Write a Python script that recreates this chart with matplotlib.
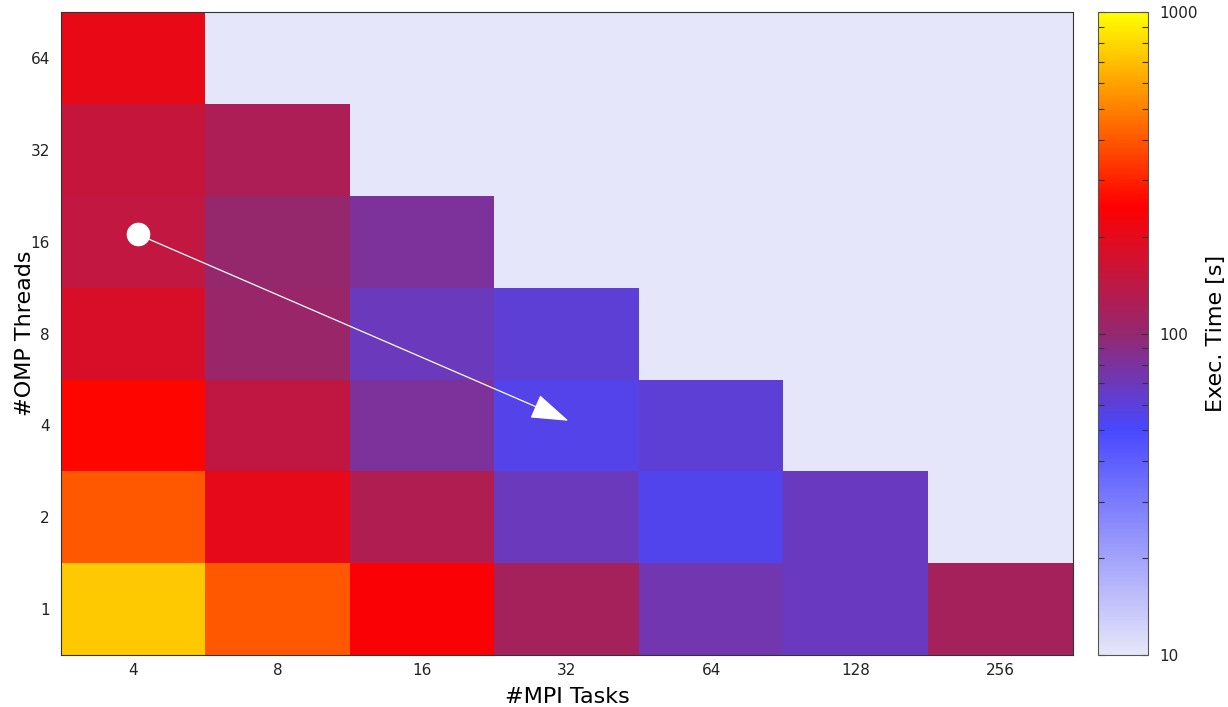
import numpy as np
import matplotlib
matplotlib.use("Agg")
import matplotlib.pyplot as plt
from matplotlib.colors import LinearSegmentedColormap, LogNorm

mpi_tasks = [4, 8, 16, 32, 64, 128, 256]
omp_threads = [1, 2, 4, 8, 16, 32, 64]

# Execution time [s]; rows = OMP threads (1..64), cols = MPI tasks (4..256); NaN = not run
exec_1 = [740, 400, 240, 116, 73, 68, 116]
exec_2 = [405, 205, 127, 69, 55, 68, np.nan]
exec_4 = [255, 145, 82, 56, 61, np.nan, np.nan]
exec_8 = [178, 104, 69, 61, np.nan, np.nan, np.nan]
exec_16 = [146, 100, 82, np.nan, np.nan, np.nan, np.nan]
exec_32 = [152, 124, np.nan, np.nan, np.nan, np.nan, np.nan]
exec_64 = [206, np.nan, np.nan, np.nan, np.nan, np.nan, np.nan]

data = np.array([exec_1, exec_2, exec_4, exec_8, exec_16, exec_32, exec_64], dtype=float)

cmap = LinearSegmentedColormap.from_list(
    "exec",
    [(0.0, "#E6E6FA"), (0.35, "#4848FF"), (0.5, "#94286F"),
     (0.7, "#FF0000"), (0.85, "#FF8000"), (1.0, "#FFFF00")])
cmap.set_bad("#E6E6FA")

fig = plt.figure(figsize=(12.28, 7.07), dpi=100)
ax = fig.add_axes([61/1228, 1-655/707, (1073-61)/1228, (655-12)/707])
cax = fig.add_axes([1098/1228, 1-655/707, 50/1228, (655-12)/707])

norm = LogNorm(vmin=10, vmax=1000)
im = ax.imshow(np.ma.masked_invalid(data), cmap=cmap, norm=norm, origin="lower",
               aspect="auto", interpolation="nearest")

ax.set_xticks(range(len(mpi_tasks)))
ax.set_xticklabels([str(v) for v in mpi_tasks])
ax.set_yticks(range(len(omp_threads)))
ax.set_yticklabels([str(v) for v in omp_threads])
ax.tick_params(length=0, labelsize=11, colors="#222222")
ax.tick_params(axis="y", pad=8)
ax.tick_params(axis="x", pad=6)
for s in ax.spines.values():
    s.set_color("#333333")
    s.set_linewidth(0.8)
ax.set_xlabel("#MPI Tasks", fontsize=16, labelpad=6)
ax.set_ylabel("#OMP Threads", fontsize=16, labelpad=-3)

# annotation arrow: from (4 MPI x 16 OMP) to (32 MPI x 4 OMP)
x0, y0 = mpi_tasks.index(4) + 0.03, omp_threads.index(16) + 0.08
x1, y1 = mpi_tasks.index(32) + 0.01, omp_threads.index(4) + 0.05
ax.annotate("", xy=(x1, y1), xytext=(x0, y0),
            arrowprops=dict(arrowstyle="-|>,head_length=2.4,head_width=0.8",
                            mutation_scale=10, color="white", lw=0.9,
                            shrinkA=0, shrinkB=0))
ax.plot([x0], [y0], "o", color="white", markersize=16, zorder=5)

cb = fig.colorbar(im, cax=cax)
cb.set_ticks([10, 100, 1000])
cb.set_ticklabels(["10", "100", "1000"])
cax.tick_params(which="both", direction="in", left=True, right=True, length=4,
                width=0.8, colors="#333333", labelsize=11, pad=8)
cax.tick_params(which="major", length=5)
cb.outline.set_edgecolor("#555555")
cb.outline.set_linewidth(0.8)
cb.set_label("Exec. Time [s]", fontsize=16, labelpad=6)
for t in cax.get_yticklabels():
    t.set_color("#222222")

fig.savefig("out.png", dpi=100)
